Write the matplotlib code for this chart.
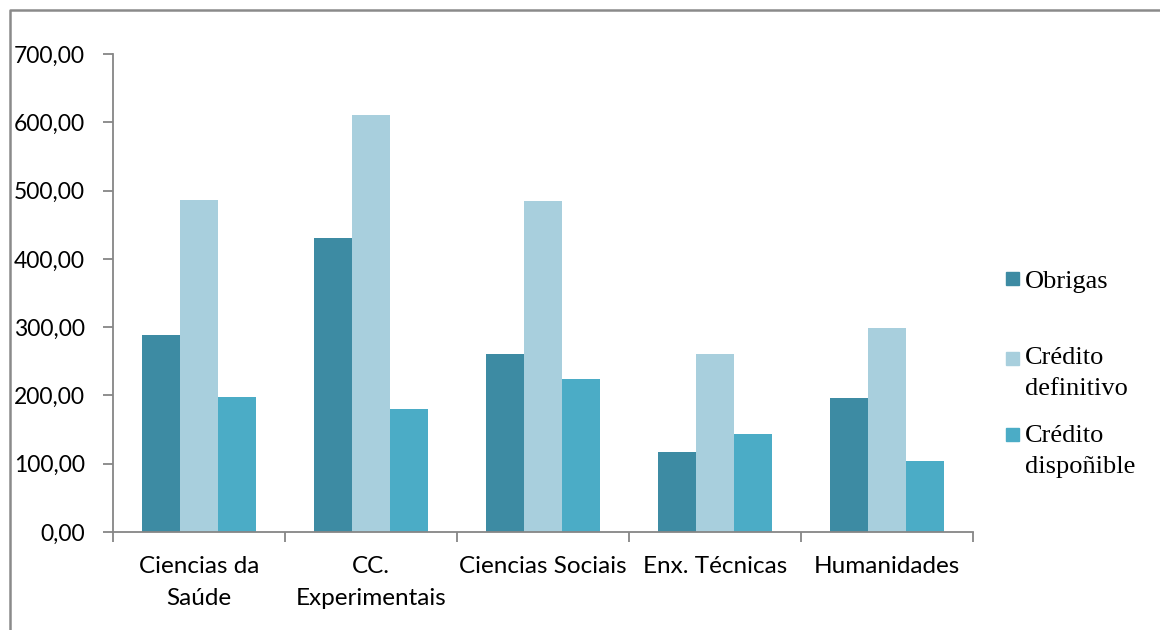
import matplotlib.pyplot as plt
import numpy as np
from matplotlib.lines import Line2D
from matplotlib.patches import Rectangle

# Data
categories = ['Ciencias da\nSaúde', 'CC.\nExperimentais', 'Ciencias Sociais',
              'Enx. Técnicas', 'Humanidades']
obrigas = [288, 430, 260, 117, 196]
credito_definitivo = [486, 610, 485, 260, 299]
credito_disponible = [198, 180, 224, 143, 104]
series_labels = ['Obrigas', 'Crédito\ndefinitivo', 'Crédito\ndispoñible']
colors = ['#3D8BA3', '#A8CFDD', '#4BACC6']
yticks = np.arange(0, 701, 100)

W, H = 1160, 630
fig = plt.figure(figsize=(W / 100, H / 100), dpi=100)
ax = fig.add_axes([113 / W, 1 - 532 / H, (973 - 113) / W, (532 - 54) / H])

x = np.arange(len(categories))
bw = 0.222
for i, (vals, col) in enumerate(zip([obrigas, credito_definitivo, credito_disponible], colors)):
    ax.bar(x + (i - 1) * bw, vals, width=bw, color=col, zorder=2)

ax.set_xlim(-0.5, len(categories) - 0.5)
ax.set_ylim(0, 700)
ax.set_yticks(yticks)
ax.set_yticklabels([f'{v:.2f}'.replace('.', ',') for v in yticks],
                   fontfamily='Lato', fontsize=16.5)
# category ticks sit on the boundaries, labels at centres
ax.set_xticks(np.arange(len(categories) + 1) - 0.5)
ax.set_xticklabels([])
ax.set_xticks(x, minor=True)
ax.set_xticklabels(categories, minor=True, fontfamily='Lato', fontsize=17.5,
                   linespacing=1.65)
ax.tick_params(axis='x', which='minor', length=0, pad=17)
ax.tick_params(axis='x', which='major', length=7, width=1.3, color='#868686')
ax.tick_params(axis='y', length=7, width=1.3, color='#868686', pad=13)

for s in ['top', 'right']:
    ax.spines[s].set_visible(False)
for s in ['left', 'bottom']:
    ax.spines[s].set_color('#868686')
    ax.spines[s].set_linewidth(1.3)

# outer chart frame (left and top edges visible)
fig.add_artist(Line2D([10 / W, 10 / W, 1.0], [0.0, 1 - 10 / H, 1 - 10 / H],
                      transform=fig.transFigure, color='#8A8A8A', lw=1.8))

# legend drawn to match the reference layout
sq_tops = [272, 352, 428]
txt_tops = [271, 347, 425]
for lab, col, top, tt in zip(series_labels, colors, sq_tops, txt_tops):
    fig.add_artist(Rectangle((1006 / W, 1 - (top + 13) / H), 13 / W, 13 / H,
                             transform=fig.transFigure, color=col))
    fig.text(1025 / W, 1 - tt / H, lab, fontfamily='Liberation Serif',
             fontsize=19, va='top', ha='left', linespacing=1.55)

fig.savefig('out.png', dpi=100)
